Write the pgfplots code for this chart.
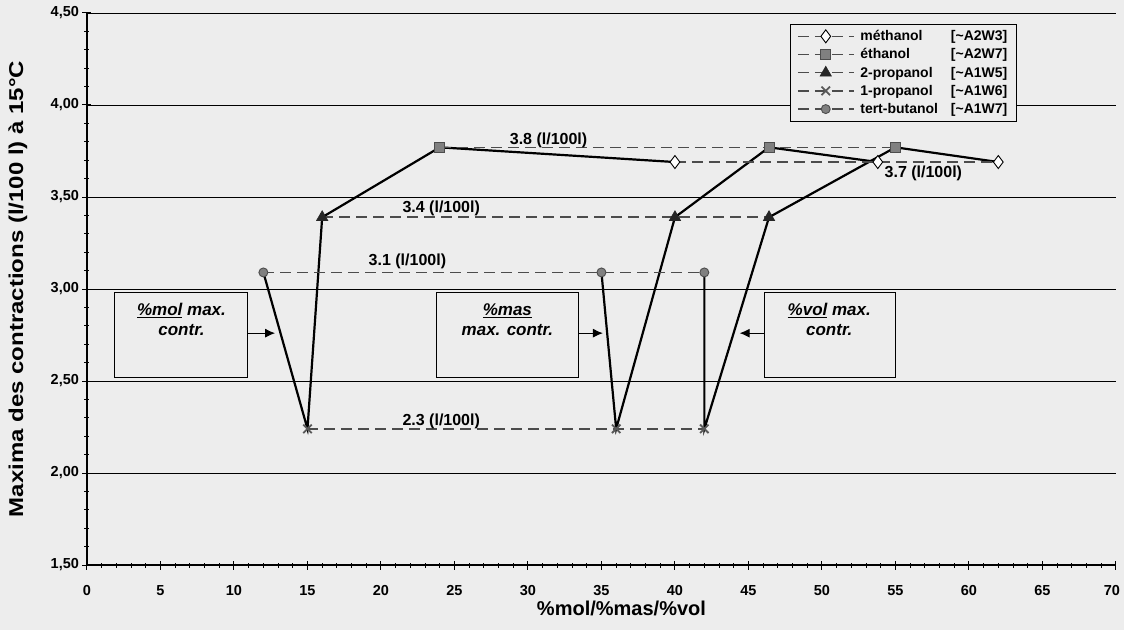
\documentclass[border=0pt]{standalone}
\usepackage{fontspec}
\setmainfont{Liberation Sans}
\usepackage{pgfplots}
\pgfplotsset{compat=1.18}
\usetikzlibrary{arrows.meta}

\definecolor{bgcol}{gray}{0.93}
\definecolor{dashcol}{gray}{0.3}
\definecolor{markgray}{gray}{0.5}

\tikzset{
    alc/.style={dashcol, line width=1.6pt, dash pattern=on 11pt off 6pt},
    conc/.style={black, line width=2.2pt, mark=none},
    lbl/.style={font=\bfseries\fontsize{16}{19}\selectfont},
    boxtxt/.style={font=\bfseries\itshape\fontsize{17}{20}\selectfont, align=center},
    bx/.style={draw=black, line width=1pt, fill=bgcol},
    arr/.style={black, line width=1pt, -{Latex[length=10pt,width=9pt]}},
}

\begin{document}
\begin{tikzpicture}
% page = 1124 x 630, axis box 1029 x 552
\path[use as bounding box, fill=bgcol] (-87pt,-65pt) rectangle (1037pt,565pt);
\begin{axis}[
    at={(0pt,0pt)}, anchor=south west,
    scale only axis, width=1029pt, height=552pt,
    xmin=0, xmax=70, ymin=1.5, ymax=4.5,
    axis lines*=left,
    axis line style={line width=1.6pt},
    xtick={0,5,10,15,20,25,30,35,40,45,50,55,60,65,70},
    xticklabels={0,5,10,15,20,25,30,35,40,45,50,55,60,65,\hspace*{-8pt}70},
    ytick={1.5,2,2.5,3,3.5,4,4.5},
    minor x tick num=4, minor y tick num=4,
    tick align=center, major tick length=9pt, minor tick length=5pt,
    every tick/.style={black, line width=1pt},
    ymajorgrids, major grid style={black, line width=0.7pt},
    /pgf/number format/assume math mode=true,
    ticklabel style={font=\bfseries\fontsize{14.5}{16}\selectfont},
    xticklabel style={yshift=-12pt},
    yticklabel style={/pgf/number format/.cd, fixed, fixed zerofill, precision=2, use comma},
    xlabel={\%mol/\%mas/\%vol},
    ylabel={\scalebox{1.2}[1]{Maxima des contractions (l/100 l) à 15°C}},
    label style={font=\bfseries\fontsize{20}{24}\selectfont},
    xlabel style={at={(axis description cs:0.5,0)}, anchor=center, yshift=-43pt, xshift=20pt},
    ylabel style={at={(axis description cs:-0.0671,0.5)}, anchor=center, rotate=0},
    legend style={at={(0.683,0.980)}, anchor=north west, draw=black, line width=0.8pt,
        fill=bgcol, font=\bfseries\fontsize{14}{16}\selectfont,
        row sep=2.5pt, inner xsep=7pt, inner ysep=4pt,
        /tikz/every odd column/.append style={column sep=4pt}},
    legend cell align=left,
    legend image code/.code={
        \draw[mark repeat=2, mark phase=2, line width=1.2pt] plot coordinates {(0pt,0pt) (28pt,0pt) (56pt,0pt)};},
]

% top and right frame
\draw[line width=0.8pt] (rel axis cs:0,1) -- (rel axis cs:1,1) -- (rel axis cs:1,0);

% concentration scales (solid): %mol, %mas, %vol
\addplot[conc, forget plot] coordinates {(12,3.09) (15,2.24) (16,3.39) (24,3.77) (40,3.69)};
\addplot[conc, forget plot] coordinates {(35,3.09) (36,2.24) (40,3.39) (46.4,3.77) (53.8,3.69)};
\addplot[conc, forget plot] coordinates {(42,3.09) (42,2.24) (46.4,3.39) (55,3.77) (62,3.69)};

% alcohols (dashed with marks)
\addplot[alc, mark=diamond*, mark size=6.5pt,
    mark options={solid, fill=white, draw=black, line width=0.9pt}]
    coordinates {(40,3.69) (53.8,3.69) (62,3.69)};
\addlegendentry{\makebox[83pt][l]{méthanol}\makebox[64pt][r]{[\textasciitilde A2W3]}}
\addplot[alc, mark=square*, mark size=5pt,
    mark options={solid, fill=markgray, draw=black!70, line width=0.9pt}]
    coordinates {(24,3.77) (46.4,3.77) (55,3.77)};
\addlegendentry{\makebox[83pt][l]{éthanol}\makebox[64pt][r]{[\textasciitilde A2W7]}}
\addplot[alc, mark=triangle*, mark size=6.5pt,
    mark options={solid, fill=black!85, draw=black!85, line width=0.6pt}]
    coordinates {(16,3.39) (40,3.39) (46.4,3.39)};
\addlegendentry{\makebox[83pt][l]{2-propanol}\makebox[64pt][r]{[\textasciitilde A1W5]}}
\addplot[alc, mark=x, mark size=6pt,
    mark options={solid, draw=black!65, line width=1.8pt}]
    coordinates {(15,2.24) (36,2.24) (42,2.24)};
\addlegendentry{\makebox[83pt][l]{1-propanol}\makebox[64pt][r]{[\textasciitilde A1W6]}}
\addplot[alc, mark=*, mark size=4.5pt,
    mark options={solid, fill=markgray, draw=black!70, line width=0.9pt}]
    coordinates {(12,3.09) (35,3.09) (42,3.09)};
\addlegendentry{\makebox[83pt][l]{tert-butanol}\makebox[64pt][r]{[\textasciitilde A1W7]}}

% value labels
\node[lbl] at (axis cs:31.4,3.81) {3.8 (l/100l)};
\node[lbl] at (axis cs:24.1,3.44) {3.4 (l/100l)};
\node[lbl] at (axis cs:21.8,3.15) {3.1 (l/100l)};
\node[lbl] at (axis cs:24.1,2.28) {2.3 (l/100l)};
\node[lbl] at (axis cs:56.9,3.63) {3.7 (l/100l)};

% boxes
\draw[bx] (axis cs:1.9,2.52) rectangle (axis cs:10.95,2.98);
\node[boxtxt] at (axis cs:6.43,2.832) {\underline{\%mol} max.\\contr.};
\draw[arr] (axis cs:10.95,2.76) -- (axis cs:12.8,2.76);

\draw[bx] (axis cs:23.8,2.52) rectangle (axis cs:33.47,2.98);
\node[boxtxt] at (axis cs:28.6,2.832) {\underline{\%mas}\\max. contr.};
\draw[arr] (axis cs:33.47,2.76) -- (axis cs:35.1,2.76);

\draw[bx] (axis cs:46.12,2.52) rectangle (axis cs:54.97,2.98);
\node[boxtxt] at (axis cs:50.5,2.832) {\underline{\%vol} max.\\contr.};
\draw[arr] (axis cs:46.12,2.76) -- (axis cs:44.4,2.76);

\end{axis}
\end{tikzpicture}
\end{document}
